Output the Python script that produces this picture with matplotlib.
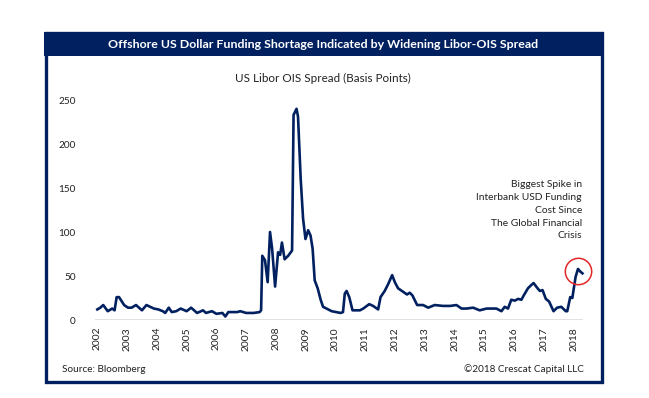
import numpy as np
import matplotlib
matplotlib.use("Agg")
import matplotlib.pyplot as plt
from matplotlib.patches import Rectangle

plt.rcParams['font.family'] = ['Lato', 'DejaVu Sans']

# US Libor-OIS spread, basis points
dates = [2002.00, 2002.10, 2002.20, 2002.35, 2002.50, 2002.58, 2002.65, 2002.73, 2002.90,
         2003.03, 2003.15, 2003.30, 2003.50, 2003.65, 2003.90,
         2004.05, 2004.20, 2004.28, 2004.40, 2004.50, 2004.65, 2004.80,
         2005.00, 2005.15, 2005.35, 2005.55, 2005.65, 2005.85,
         2006.00, 2006.20, 2006.30, 2006.40, 2006.70, 2006.80,
         2007.00, 2007.25, 2007.45, 2007.50, 2007.54, 2007.63, 2007.72, 2007.80, 2007.87, 2007.97,
         2008.07, 2008.14, 2008.20, 2008.29, 2008.41, 2008.54, 2008.59, 2008.69, 2008.74, 2008.83,
         2008.91, 2008.99, 2009.08, 2009.16, 2009.23, 2009.30, 2009.40, 2009.50, 2009.58, 2009.75,
         2009.87, 2010.03, 2010.17, 2010.25, 2010.31, 2010.37, 2010.46, 2010.57, 2010.82, 2010.93,
         2011.13, 2011.26, 2011.43, 2011.51, 2011.65, 2011.77, 2011.90, 2011.99,
         2012.10, 2012.27, 2012.40, 2012.49, 2012.58, 2012.74, 2012.94,
         2013.11, 2013.33, 2013.61, 2013.85, 2014.06, 2014.23, 2014.40, 2014.62, 2014.84,
         2015.07, 2015.40, 2015.57, 2015.68, 2015.79, 2015.90,
         2016.02, 2016.13, 2016.24, 2016.32, 2016.46, 2016.58, 2016.65, 2016.76, 2016.86, 2016.95,
         2017.06, 2017.17, 2017.25, 2017.32, 2017.44, 2017.58, 2017.73, 2017.78, 2017.88, 2017.95,
         2018.06, 2018.14, 2018.22, 2018.29]
spread = [12, 14, 17, 10, 13, 11, 26, 26, 17,
          14, 14, 17, 11, 17, 13,
          12, 10, 8, 14, 9, 10, 13,
          10, 14, 8, 11, 8, 10,
          7, 8, 4, 9, 9, 10,
          8, 8, 9, 11, 73, 68, 43, 100, 81, 38,
          77, 74, 88, 69, 73, 79, 233, 240, 231, 160,
          115, 92, 102, 96, 81, 45, 36, 23, 15, 12,
          10, 9, 8, 9, 30, 33, 26, 11, 11, 13,
          18, 16, 12, 26, 33, 41, 51, 43,
          36, 32, 29, 31, 28, 17, 17,
          14, 17, 16, 16, 17, 13, 13, 14, 11,
          13, 13, 10, 15, 13, 23,
          22, 24, 23, 28, 36, 40, 42, 37, 33, 34,
          24, 21, 15, 10, 14, 15, 10, 10, 26, 25,
          49, 58, 55, 53]
year_ticks = list(range(2002, 2019))
y_ticks = [0, 50, 100, 150, 200, 250]

navy = '#002060'
W, H = 649, 398

fig = plt.figure(figsize=(W / 100, H / 100), dpi=100)


def fx(px):
    return px / W


def fy(py):
    return 1 - py / H


# frame and title bar
fig.patches.append(Rectangle((fx(45.5), fy(381.5)), fx(602) - fx(45.5), fy(33) - fy(381.5),
                             transform=fig.transFigure, fill=False, edgecolor=navy, linewidth=2.4))
fig.patches.append(Rectangle((fx(44), fy(56)), fx(603.5) - fx(44), fy(32) - fy(56),
                             transform=fig.transFigure, facecolor=navy, edgecolor='none'))
fig.text(fx(323), fy(45), 'Offshore US Dollar Funding Shortage Indicated by Widening Libor-OIS Spread',
         color='white', fontsize=8.9, fontweight='bold', ha='center', va='center')
fig.text(fx(323), fy(78), 'US Libor OIS Spread (Basis Points)', color='#222222',
         fontsize=8.4, ha='center', va='center')

# plot area: x 95..583 px, y 0 at 320 px, 250 at 100 px
ax = fig.add_axes([fx(95), fy(320), fx(583) - fx(95), fy(100) - fy(320)])
px_per_year = 29.8
ax.set_xlim(2002 - 2.3 / px_per_year, 2002 + 486 / px_per_year)
ax.set_ylim(0, 250)

ax.plot(dates, spread, color=navy, linewidth=1.9, clip_on=False, zorder=3)
ax.axhline(0, color='#d9d9d9', linewidth=1.8, zorder=1)

for s in ax.spines.values():
    s.set_visible(False)
ax.set_yticks(y_ticks)
ax.set_xticks(year_ticks)
ax.set_xticklabels([str(y) for y in year_ticks], rotation=90)
ax.tick_params(axis='y', length=0, pad=14, labelsize=7.2, labelcolor='#222222')
ax.tick_params(axis='x', length=0, pad=5, labelsize=7.4, labelcolor='#222222')
ax.patch.set_alpha(0)

# red circle round the latest spike
recent = [i for i, d in enumerate(dates) if d > 2017.5]
peak = max(recent, key=lambda i: spread[i])
ax.plot(dates[peak], spread[peak] - 2, marker='o', markersize=19, markerfacecolor='none',
        markeredgecolor='#e32626', markeredgewidth=1.1, clip_on=False, zorder=4)

fig.text(fx(582), fy(180), 'Biggest Spike in\nInterbank USD Funding\nCost Since\nThe Global Financial\nCrisis',
         ha='right', va='top', multialignment='right', fontsize=7.4, linespacing=1.55, color='#222222')

fig.text(fx(62), fy(369), 'Source: Bloomberg', fontsize=7.2, ha='left', va='center', color='#222222')
fig.text(fx(584), fy(369), '\u00a92018 Crescat Capital LLC', fontsize=7.2, ha='right', va='center',
         color='#222222')

fig.savefig('out.png', dpi=100)
